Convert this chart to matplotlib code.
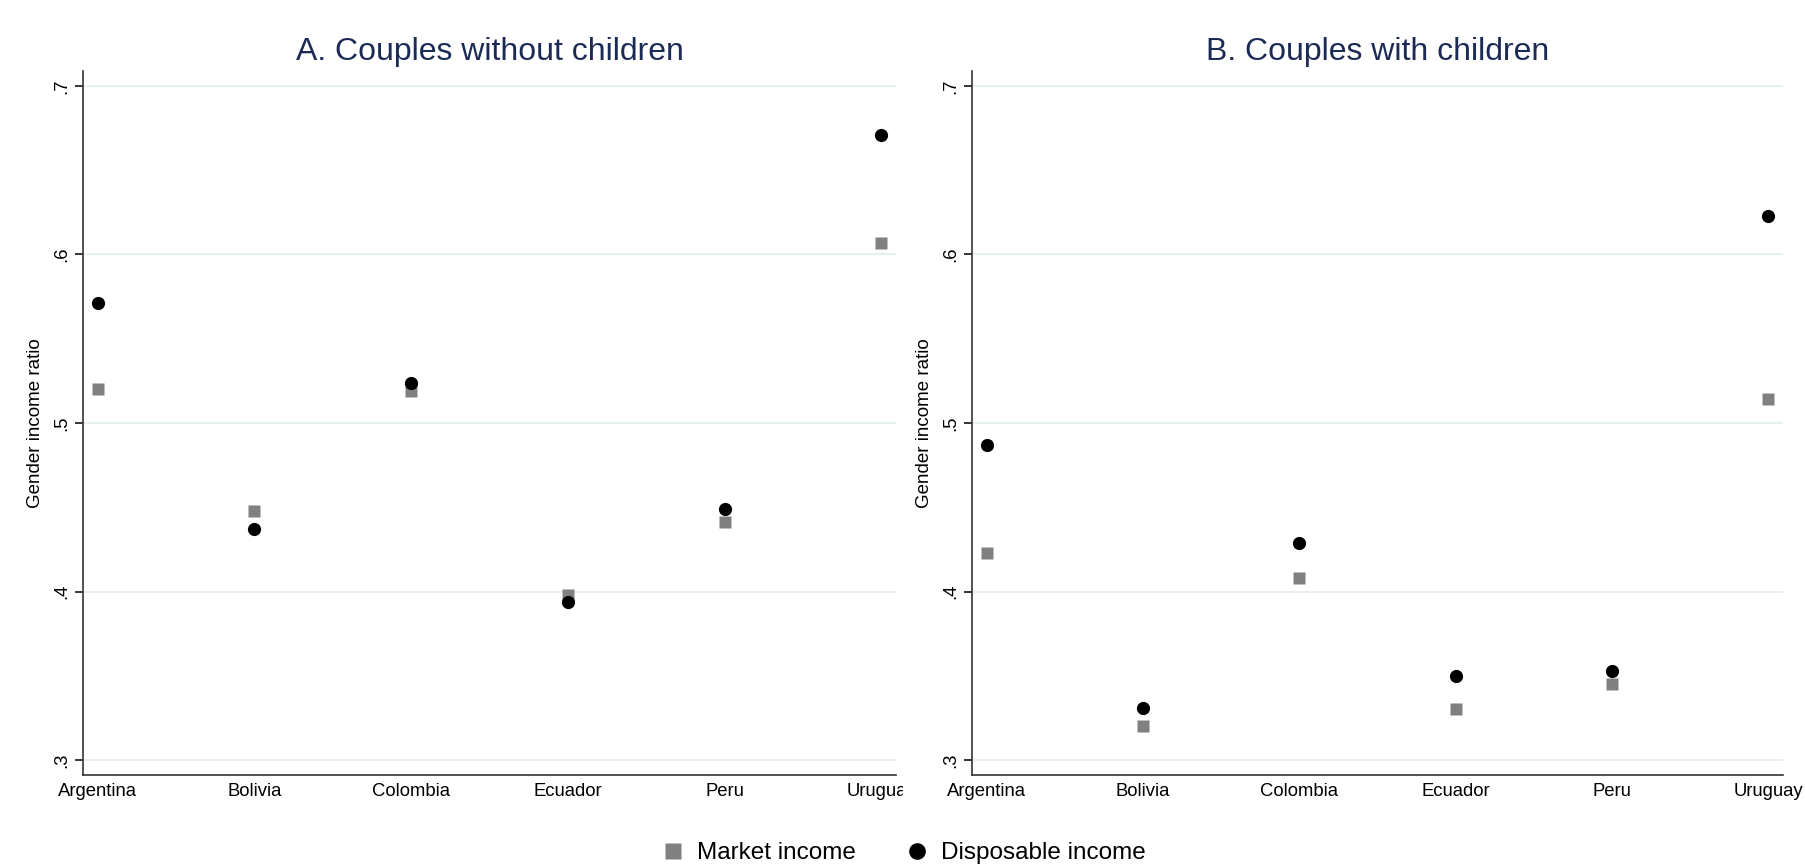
import matplotlib
matplotlib.use('Agg')
import matplotlib.pyplot as plt
from matplotlib.lines import Line2D
from matplotlib.transforms import Bbox, TransformedBbox
import numpy as np

plt.rcParams['font.family'] = ['Liberation Sans', 'DejaVu Sans']

countries = ['Argentina', 'Bolivia', 'Colombia', 'Ecuador', 'Peru', 'Uruguay']

# A. couples without children
market_no_kids = [0.520, 0.448, 0.519, 0.398, 0.441, 0.607]
disp_no_kids = [0.571, 0.437, 0.524, 0.394, 0.449, 0.671]

# B. couples with children
market_kids = [0.423, 0.320, 0.408, 0.330, 0.345, 0.514]
disp_kids = [0.487, 0.331, 0.429, 0.350, 0.353, 0.623]

yticks = [0.3, 0.4, 0.5, 0.6, 0.7]
ytick_labels = ['.3', '.4', '.5', '.6', '.7']

TITLE_C = '#1c2b55'
GRID_C = '#e6eff1'
SQ_C = '#808080'

W, H = 1806, 866
fig = plt.figure(figsize=(W / 100, H / 100), dpi=100)
fig.patch.set_facecolor('white')


def panel(rect, title, market, disp):
    ax = fig.add_axes(rect)
    x = np.arange(len(countries))
    ax.plot(x, market, 's', color=SQ_C, ms=9, mec='none', zorder=3)
    ax.plot(x, disp, 'o', color='black', ms=9.5, mec='none', zorder=4)
    ax.set_xlim(-0.093, 5.093)
    ax.set_ylim(0.2911, 0.7089)
    ax.set_xticks(x)
    ax.set_xticklabels(countries, fontsize=13.3)
    ax.tick_params(axis='x', length=0, pad=6)
    ax.set_yticks(yticks)
    ax.set_yticklabels(ytick_labels, rotation=90, va='center', fontsize=13.3)
    ax.tick_params(axis='y', length=6, width=1.1, pad=3, direction='out')
    ax.grid(axis='y', color=GRID_C, linewidth=1.4)
    ax.set_axisbelow(True)
    for s in ('top', 'right'):
        ax.spines[s].set_visible(False)
    for s in ('left', 'bottom'):
        ax.spines[s].set_linewidth(1.2)
        ax.spines[s].set_color('#333333')
    ax.set_ylabel('Gender income ratio', fontsize=13.5, labelpad=7)
    x0, _, w, _ = rect
    fig.text(x0 + w / 2, 1 - 52 / H, title, ha='center', va='center',
             fontsize=23, color=TITLE_C)
    return ax


ax1 = panel([83 / W, 1 - 775 / H, (896 - 83) / W, (775 - 71) / H],
            'A. Couples without children', market_no_kids, disp_no_kids)
ax2 = panel([972 / W, 1 - 775 / H, (1783 - 972) / W, (775 - 71) / H],
            'B. Couples with children', market_kids, disp_kids)

# left panel's last category label is cut at the panel edge
clip = TransformedBbox(Bbox([[0, 0], [903 / W, 1]]), fig.transFigure)
for lab in ax1.get_xticklabels():
    lab.set_clip_box(clip)
    lab.set_clip_on(True)

handles = [
    Line2D([0], [0], marker='s', color=SQ_C, ls='none', ms=12, mec='none',
           label='Market income'),
    Line2D([0], [0], marker='o', color='black', ls='none', ms=12, mec='none',
           label='Disposable income'),
]
fig.legend(handles=handles, loc='center', bbox_to_anchor=(0.5, 1 - 853 / H),
           ncol=2, frameon=False, fontsize=17.5, handletextpad=0.5,
           columnspacing=2.0, handlelength=1.0)

fig.savefig('out.png', dpi=100, facecolor='white')
